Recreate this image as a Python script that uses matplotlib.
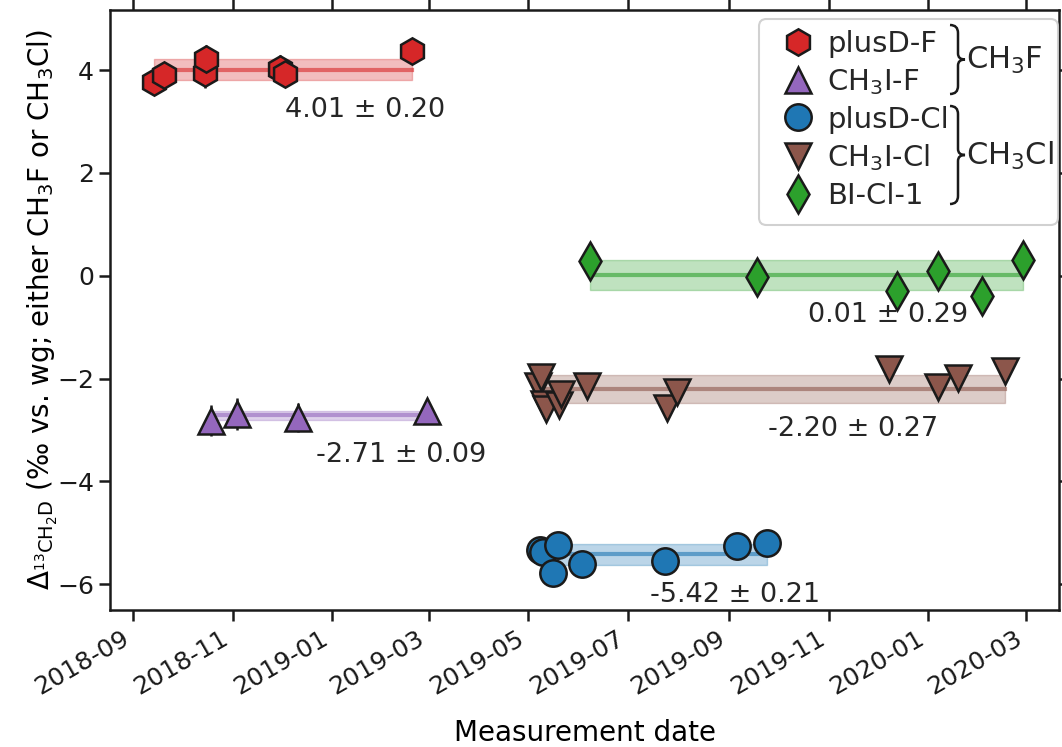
#!/usr/bin/env python3
"""Clumped-isotope reference gas measurements over time."""

import datetime as dt

import matplotlib

matplotlib.use("Agg")
import matplotlib.pyplot as plt
import matplotlib.dates as mdates
from matplotlib.lines import Line2D
from matplotlib.patches import FancyBboxPatch, PathPatch
from matplotlib.path import Path

W, H = 1062, 747

plt.rcParams.update({
    "font.family": "DejaVu Sans",
    "mathtext.fontset": "dejavusans",
    "font.size": 19,
    "axes.labelsize": 20,
    "xtick.labelsize": 18,
    "ytick.labelsize": 18,
    "legend.fontsize": 21,
    "axes.linewidth": 1.8,
    "axes.edgecolor": "#1a1a1a",
    "text.color": "#262626",
    "xtick.color": "#1a1a1a",
    "ytick.color": "#1a1a1a",
})

# ---- data -------------------------------------------------------------
plusd_f_dates = ["2018-09-14", "2018-09-20", "2018-10-15", "2018-10-16",
                 "2018-11-30", "2018-12-03", "2019-02-19"]
plusd_f_vals = [3.77, 3.90, 3.94, 4.21, 4.02, 3.92, 4.37]
plusd_f_err = [0.20, 0.20, 0.29, 0.28, 0.28, 0.20, 0.18]

ch3i_f_dates = ["2018-10-19", "2018-11-04", "2018-12-11", "2019-02-28"]
ch3i_f_vals = [-2.82, -2.69, -2.76, -2.62]
ch3i_f_err = [0.30, 0.31, 0.28, 0.15]

plusd_cl_dates = ["2019-05-08", "2019-05-10", "2019-05-16", "2019-05-19",
                  "2019-06-03", "2019-07-24", "2019-09-06", "2019-09-24"]
plusd_cl_vals = [-5.34, -5.37, -5.79, -5.24, -5.61, -5.55, -5.26, -5.19]
plusd_cl_err = [0.20, 0.20, 0.20, 0.20, 0.20, 0.20, 0.20, 0.20]

ch3i_cl_dates = ["2019-05-07", "2019-05-09", "2019-05-11", "2019-05-12",
                 "2019-05-20", "2019-05-21", "2019-06-06", "2019-07-25",
                 "2019-07-31", "2019-12-08", "2020-01-07", "2020-01-19",
                 "2020-02-17"]
ch3i_cl_vals = [-2.15, -1.97, -2.49, -2.60, -2.51, -2.29, -2.15, -2.58,
                -2.26, -1.82, -2.16, -1.99, -1.85]
ch3i_cl_err = [0.20] * 13

bi_cl_dates = ["2019-06-08", "2019-09-18", "2019-12-13", "2020-01-07",
               "2020-02-03", "2020-02-28"]
bi_cl_vals = [0.29, -0.03, -0.29, 0.10, -0.39, 0.30]
bi_cl_err = [0.20] * 6

series_names = ["plusD-F", "CH$_3$I-F", "plusD-Cl", "CH$_3$I-Cl", "BI-Cl-1"]
series_means = [4.01, -2.71, -5.42, -2.20, 0.01]
series_sds = [0.20, 0.09, 0.21, 0.27, 0.29]
mean_labels = ["4.01 ± 0.20", "-2.71 ± 0.09", "-5.42 ± 0.21",
               "-2.20 ± 0.27", "0.01 ± 0.29"]
group_labels = ["CH$_3$F", "CH$_3$Cl"]

# ---- styles -----------------------------------------------------------
COLORS = ["#d62728", "#9467bd", "#1f77b4", "#8c564b", "#2ca02c"]
MARKERS = ["h", "^", "o", "v", "d"]
EDGE = "#1a1a1a"
MS = 19

all_dates = [plusd_f_dates, ch3i_f_dates, plusd_cl_dates, ch3i_cl_dates, bi_cl_dates]
all_vals = [plusd_f_vals, ch3i_f_vals, plusd_cl_vals, ch3i_cl_vals, bi_cl_vals]
all_errs = [plusd_f_err, ch3i_f_err, plusd_cl_err, ch3i_cl_err, bi_cl_err]


def to_dt(s):
    return dt.datetime.strptime(s, "%Y-%m-%d")


def fig_xy(px, py):
    """Figure pixel (from top-left) -> figure fraction."""
    return px / W, 1 - py / H


def draw_brace(ax, x, y_top, y_bot, curl=8, tip=7):
    ymid = (y_top + y_bot) / 2
    pts = [
        (x - curl, y_top), (x, y_top), (x, y_top + curl),
        (x, ymid - 6),
        (x, ymid), (x + tip, ymid),
        (x, ymid), (x, ymid + 6),
        (x, y_bot - curl),
        (x, y_bot), (x - curl, y_bot),
    ]
    codes = [Path.MOVETO, Path.CURVE3, Path.CURVE3, Path.LINETO,
             Path.CURVE3, Path.CURVE3, Path.CURVE3, Path.CURVE3,
             Path.LINETO, Path.CURVE3, Path.CURVE3]
    path = Path([fig_xy(*p) for p in pts], codes)
    ax.add_patch(PathPatch(path, fc="none", ec=EDGE, lw=1.8,
                           transform=ax.figure.transFigure, clip_on=False,
                           zorder=6))


fig, ax = plt.subplots(figsize=(W / 100, H / 100), dpi=100)
fig.subplots_adjust(left=110 / W, right=1059 / W, top=1 - 10 / H, bottom=1 - 610 / H)

for i in range(len(series_names)):
    d = [to_dt(s) for s in all_dates[i]]
    c = COLORS[i]
    m, sd = series_means[i], series_sds[i]
    x0, x1 = min(d), max(d)
    ax.fill_between([x0, x1], m - sd, m + sd, color=c, alpha=0.3, lw=1, zorder=1)
    ax.plot([x0, x1], [m, m], color=c, lw=3, alpha=0.6, zorder=1.5)
    ax.errorbar(d, all_vals[i], yerr=all_errs[i], fmt="none", ecolor=EDGE,
                elinewidth=1.8, capsize=0, zorder=2)
    ax.plot(d, all_vals[i], ls="none", marker=MARKERS[i], ms=MS, mfc=c,
            mec=EDGE, mew=1.8, zorder=3)
    xc = x0 + (x1 - x0) / 2 + dt.timedelta(days=50)
    ax.text(xc, m - 0.78, mean_labels[i], ha="center", va="center",
            fontsize=19.5, zorder=4)

ax.set_xlim(dt.datetime(2018, 8, 18), dt.datetime(2020, 3, 21))
ax.set_ylim(-6.5, 5.17)
ax.xaxis.set_major_locator(mdates.MonthLocator(bymonth=[1, 3, 5, 7, 9, 11]))
ax.xaxis.set_major_formatter(mdates.DateFormatter("%Y-%m"))
for lab in ax.get_xticklabels():
    lab.set_rotation(30)
    lab.set_ha("right")
ax.set_yticks([-6, -4, -2, 0, 2, 4])
ax.tick_params(direction="out", length=8, width=1.8, top=True, right=True)

ax.set_xlabel("Measurement date", labelpad=14)
ax.set_ylabel(r"$\Delta_{^{13}\mathrm{CH_2D}}$ (‰ vs. wg; either CH$_3$F or CH$_3$Cl)",
              labelpad=-2)

# legend with a hand-made frame so the group braces fit inside
bx0, by0 = fig_xy(759, 225)
bx1, by1 = fig_xy(1058, 19)
box = FancyBboxPatch((bx0, by0), bx1 - bx0, by1 - by0,
                     boxstyle="round,pad=0,rounding_size=0.007",
                     mutation_aspect=W / H, transform=fig.transFigure,
                     fc="white", ec="#cccccc", lw=1.5, alpha=0.9,
                     clip_on=False, zorder=4.9)
ax.add_patch(box)

handles = [Line2D([], [], ls="none", marker=MARKERS[i], ms=MS, mfc=COLORS[i],
                  mec=EDGE, mew=1.8) for i in range(len(series_names))]
ax.legend(handles, series_names, loc="upper left",
          bbox_to_anchor=fig_xy(757, 4), bbox_transform=fig.transFigure,
          frameon=False, handlelength=1.0, handletextpad=0.5,
          labelspacing=0.3, borderpad=0.4)

draw_brace(ax, 958, 25, 94)
draw_brace(ax, 958, 106, 204)
tx, ty = fig_xy(966, 60)
ax.text(tx, ty, group_labels[0], transform=fig.transFigure, ha="left",
        va="center", fontsize=22, zorder=6)
tx, ty = fig_xy(966, 156)
ax.text(tx, ty, group_labels[1], transform=fig.transFigure, ha="left",
        va="center", fontsize=22, zorder=6)

fig.savefig("out.png", dpi=100)
plt.close(fig)
